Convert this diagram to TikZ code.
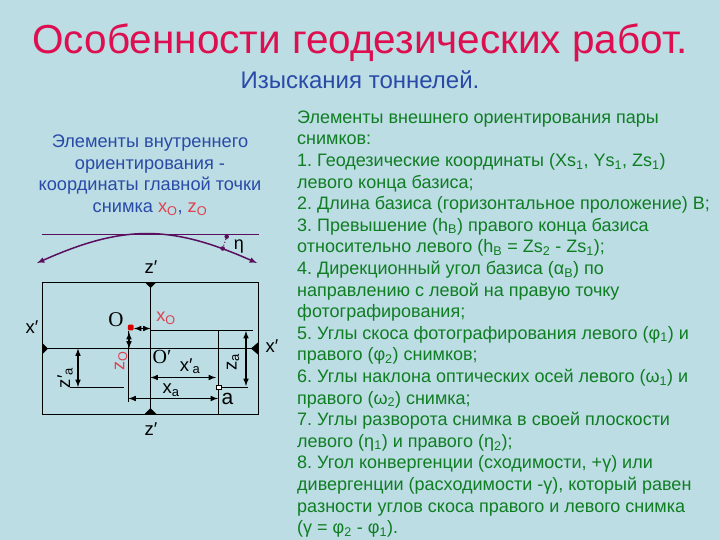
\documentclass[tikz,border=0pt]{standalone}
\usepackage{fontspec}
\setmainfont{Liberation Sans}
\newfontfamily\serifnote{Liberation Serif}
\definecolor{fond}{HTML}{BBDDE3}
\definecolor{titre}{HTML}{DE0F50}
\definecolor{bleu}{HTML}{2A4AA8}
\definecolor{vert}{HTML}{0F7D22}
\definecolor{rouge}{HTML}{E0404F}
\definecolor{violet}{HTML}{5A0F5F}
\newcommand{\ind}[1]{\textsubscript{#1}}
\frenchspacing
\begin{document}
\begin{tikzpicture}[>=latex, x=1pt, y=-1pt,
	trait/.style={line width=1pt, black},
	fleche/.style={line width=1.5pt, black, <->},
	arc/.style={line width=1.5pt, violet},
	repere/.style={inner sep=0, black, font=\fontsize{18.5}{18}\selectfont},
	rouget/.style={inner sep=0, rouge, font=\fontsize{18}{18}\selectfont},
	tete/.style={fill=black, draw=none},
	point/.style={circle, fill=violet, inner sep=1.5}]
	\fill[fond] (0,0) rectangle (720,540);
	\useasboundingbox (0,0) rectangle (720,540);

	\node[inner sep=0, titre, font=\fontsize{40.5}{42}\selectfont] (T) at (360,43) {Особенности геодезических работ.};
	\node[inner sep=0, bleu, font=\fontsize{24}{24}\selectfont] (S) at (360,80) {Изыскания тоннелей.};
	\node[inner sep=0, bleu, align=center, font=\fontsize{18.2}{21.5}\selectfont] (G) at (150,175) {Элементы внутреннего\\ориентирования -\\координаты главной точки\\снимка \textcolor{rouge}{x\ind{O}}, \textcolor{rouge}{z\ind{O}}};
	\node[inner sep=0, vert, anchor=north west, align=left, font=\fontsize{18}{21.6}\selectfont] (D) at (297,110.5) {Элементы внешнего ориентирования пары\\снимков:\\1. Геодезические координаты (Xs\ind{1}, Ys\ind{1}, Zs\ind{1})\\левого конца базиса;\\2. Длина базиса (горизонтальное проложение) В;\\3. Превышение (h\ind{B}) правого конца базиса\\относительно левого (h\ind{B} = Zs\ind{2} - Zs\ind{1});\\4. Дирекционный угол  базиса (α\ind{B}) по\\направлению с левой на правую точку\\фотографирования;\\5. Углы скоса фотографирования левого (φ\ind{1}) и\\правого (φ\ind{2}) снимков;\\6. Углы наклона оптических осей левого (ω\ind{1}) и\\правого (ω\ind{2}) снимка;\\7. Углы разворота снимка в своей плоскости\\левого (η\ind{1}) и правого (η\ind{2});\\8. Угол конвергенции (сходимости, +γ) или\\дивергенции (расходимости -γ), который равен\\разности углов скоса правого и левого снимка\\(γ = φ\ind{2} - φ\ind{1}).};

	\coordinate (NO) at (42.5,282.5);
	\coordinate (SE) at (258.5,414.5);
	\coordinate (N) at (150.5,282.5);
	\coordinate (Z) at (150.5,414.5);
	\coordinate (W) at (42.5,348.5);
	\coordinate (E) at (258.5,348.5);
	\coordinate (C) at (150.5,330.5);
	\coordinate (L) at (253,330.5);
	\coordinate (H) at (218.5,330.5);
	\coordinate (B) at (218.5,414.5);
	\coordinate (Oh) at (128.5,330.5);
	\coordinate (Ob) at (128.5,402);
	\coordinate (Zg) at (70,387);
	\coordinate (Zd) at (123.5,387);
	\coordinate (Ad) at (248,387);

	\draw[trait] (NO) rectangle (SE);
	\path (N) edge[trait] (Z);
	\path (W) edge[trait] (E);
	\path (C) edge[trait] (L);
	\path (H) edge[trait] (B);
	\path (Oh) edge[trait] (Ob);
	\path (Zg) edge[trait] (Zd);

	\fill[tete] (145,282.5) -- (156,282.5) -- (150.5,288) -- cycle;
	\fill[tete] (144,414.5) -- (157,414.5) -- (150.5,408) -- cycle;
	\fill[tete] (42.5,343) -- (42.5,354) -- (48,348.5) -- cycle;
	\fill[tete] (258.5,342) -- (258.5,355) -- (251,348.5) -- cycle;

	\node[draw=black, fill=white, line width=0.6pt, inner sep=2.2] (A) at (218.7,387) {};
	\path (A) edge[trait] (Ad);

	\coordinate (Oe) at (134,328.5);
	\coordinate (Oc) at (150.5,328.5);
	\coordinate (Os) at (129,332);
	\coordinate (Oa) at (129,348.5);
	\coordinate (Zh) at (78,348.5);
	\coordinate (Zb) at (78,387);
	\coordinate (Ah) at (246,331);
	\coordinate (Ab) at (246,386);
	\coordinate (Xg) at (150.5,377.5);
	\coordinate (Xd) at (216,377.5);
	\coordinate (Yg) at (128.5,398.5);
	\coordinate (Yd) at (218,398.5);
	\path (Oe) edge[fleche] (Oc);
	\path (Os) edge[fleche] (Oa);
	\path (Zh) edge[fleche] (Zb);
	\path (Ah) edge[fleche] (Ab);
	\path (Xg) edge[fleche] (Xd);
	\path (Yg) edge[fleche] (Yd);
	\node[fill=red!85!black, rectangle, rounded corners=1pt, inner sep=2.8] (O) at (130.7,327.5) {};

	\coordinate (Pg) at (41.5,234.5);
	\coordinate (Pd) at (258.5,234.5);
	\coordinate (Ag) at (37,263);
	\coordinate (Adr) at (257,263);
	\path (Pg) edge[line width=0.7pt, violet] (Pd);
	\path (Ag) edge[arc, <->, bend left=24, looseness=1.1] (Adr);
	\node[point, inner sep=1.6] (E1) at (226.7,236.7) {};
	\node[point, inner sep=1.6] (E2) at (222.7,248.5) {};
	\path (E1) edge[line width=1pt, violet, dotted] (E2);

	\node[repere] (zh) at (151,267) {z′};
	\node[repere] (zb) at (151,429) {z′};
	\node[repere] (xg) at (32,327) {x′};
	\node[repere] (xd) at (272,346) {x′};
	\node[repere, font=\fontsize{18}{18}\selectfont] (eta) at (239,247) {η};
	\node[repere, font=\serifnote\fontsize{21}{21}\selectfont] (lO) at (116,320) {O};
	\node[repere, font=\serifnote\fontsize{20}{20}\selectfont] (lOp) at (162,357) {O′};
	\node[rouget] (lxO) at (166,318) {x\ind{O}};
	\node[rouget, rotate=90] (lzO) at (121,361) {z\ind{O}};
	\node[repere, rotate=90] (lza) at (233,362) {z\ind{a}};
	\node[repere, rotate=90] (lzp) at (65,378) {z′\ind{a}};
	\node[repere] (lxp) at (190,366) {x′\ind{a}};
	\node[repere] (lx) at (171,390) {x\ind{a}};
	\node[repere, font=\fontsize{21}{21}\selectfont] (la) at (227.5,399) {a};
\end{tikzpicture}
\end{document}
